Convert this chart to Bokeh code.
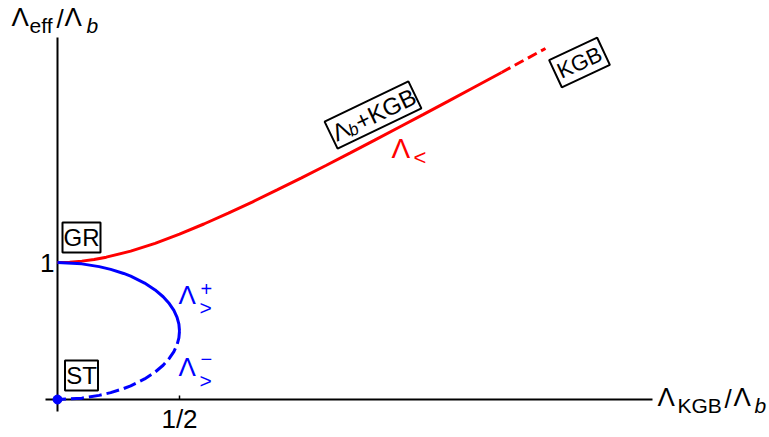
import math
from bokeh.plotting import figure
from bokeh.models import Range1d
from bokeh.core.properties import value
from bokeh.embed import file_html
from bokeh.resources import INLINE

# Lambda_< branch (red): solid part, then dashed continuation
red_x = [0.0, 0.05, 0.1, 0.15, 0.2, 0.3, 0.4, 0.5, 0.6, 0.7, 0.8, 0.9, 1.0,
         1.1, 1.2, 1.3, 1.4, 1.5, 1.6, 1.7, 1.82]
red_y = [1.0, 1.0025, 1.010, 1.022, 1.039, 1.083, 1.140, 1.207, 1.281, 1.360,
         1.443, 1.530, 1.618, 1.708, 1.800, 1.893, 1.987, 2.081, 2.176, 2.272, 2.387]
red_dash_x = [1.82, 1.9, 2.0]
red_dash_y = [2.387, 2.465, 2.562]

# Lambda_>^+ branch (blue, solid) and Lambda_>^- branch (blue, dashed)
plus_y = [1.0, 0.99, 0.97, 0.95, 0.92, 0.9, 0.85, 0.8, 0.75, 0.7, 0.65, 0.6, 0.55, 0.5]
plus_x = [0.0, 0.0995, 0.1706, 0.218, 0.2713, 0.3, 0.357, 0.4, 0.433, 0.458, 0.477, 0.490, 0.4975, 0.5]
minus_y = [0.5, 0.45, 0.4, 0.35, 0.3, 0.25, 0.2, 0.15, 0.1, 0.08, 0.05, 0.03, 0.01, 0.0]
minus_x = [0.5, 0.4975, 0.490, 0.477, 0.458, 0.433, 0.4, 0.357, 0.3, 0.2713, 0.218, 0.1706, 0.0995, 0.0]

# axis ticks and their labels
x_ticks = [0.5]
x_tick_labels = ["1/2"]
y_ticks = [1.0]
y_tick_labels = ["1"]

W, H = 769, 437
X0, Y0 = 57.0, 399.0      # screen position of the origin
SX, SY = 244.0, 137.0     # pixels per data unit

RED = "#ff0000"
BLUE = "#0000ff"
FONT = value("Liberation Sans")

p = figure(width=W, height=H, output_backend="svg", toolbar_location=None,
           x_range=Range1d(-X0 / SX, (W - X0) / SX),
           y_range=Range1d((Y0 - H) / SY, Y0 / SY),
           x_axis_location=None, y_axis_location=None, min_border=0)
p.grid.visible = False
p.outline_line_color = None
p.background_fill_color = "white"


def dx(px):
    return px / SX


def dy(py):
    return -py / SY


def X(px):
    return (px - X0) / SX


def Y(py):
    return (Y0 - py) / SY


def put(x, y, txt, size, color="black", align="left", style="normal", angle=0.0):
    # (x, y) is the vertical middle of the text line
    p.text(x=[x], y=[y], text=[txt], text_font=FONT, text_font_size=value(f"{size}px"),
           text_color=color, text_align=align, text_baseline="middle",
           text_font_style=style, angle=angle)


# axes
p.segment(x0=[X(45)], y0=[0], x1=[X(652)], y1=[0], line_color="black", line_width=2)
p.segment(x0=[0], y0=[Y(411)], x1=[0], y1=[Y(37)], line_color="black", line_width=2)
for t in x_ticks:
    p.segment(x0=[t], y0=[0], x1=[t], y1=[dy(-4)], line_color="black", line_width=1.5)
for t in y_ticks:
    p.segment(x0=[0], y0=[t], x1=[dx(4)], y1=[t], line_color="black", line_width=1.5)
for t, lab in zip(x_ticks, x_tick_labels):
    put(t, dy(19), lab, 26, align="center")
for t, lab in zip(y_ticks, y_tick_labels):
    put(dx(-3), t, lab, 26, align="right")

# curves
p.line(red_x, red_y, line_color=RED, line_width=3)
p.line(red_dash_x, red_dash_y, line_color=RED, line_width=3, line_dash="10 5")
p.line(plus_x, plus_y, line_color=BLUE, line_width=3)
p.line(minus_x, minus_y, line_color=BLUE, line_width=3, line_dash="13 5")
p.scatter([0], [0], size=9, color=BLUE)

# axis titles
put(X(11), Y(16), "Λ", 26)
put(X(29), Y(25), "eff", 21)
put(X(56), Y(18), "/", 26)
put(X(64), Y(16), "Λ", 26)
put(X(86), Y(25), "b", 21, style="italic")

put(X(657), Y(396), "Λ", 26)
put(X(677), Y(405), "KGB", 21)
put(X(724), Y(398), "/", 26)
put(X(733), Y(396), "Λ", 26)
put(X(754), Y(405), "b", 21, style="italic")

# branch labels
put(X(391), Y(148), "Λ", 28, color=RED)
put(X(413), Y(157), "<", 22, color=RED)

put(X(178), Y(294), "Λ", 26, color=BLUE)
put(X(199), Y(307), ">", 21, color=BLUE)
put(X(200), Y(288), "+", 20, color=BLUE)

put(X(178), Y(366), "Λ", 26, color=BLUE)
put(X(199), Y(380), ">", 21, color=BLUE)
put(X(200), Y(358), "−", 20, color=BLUE)


# framed labels
def box(cx, cy, w, h, angle=0.0):
    p.rect(x=[X(cx)], y=[Y(cy)], width=w, height=h, width_units="screen",
           height_units="screen", angle=angle, fill_color=None,
           line_color="black", line_width=2)


box(81, 237, 38, 30)
put(X(81), Y(237), "GR", 24, align="center")
box(81, 375, 33, 30)
put(X(81), Y(375), "ST", 24, align="center")


# rotated boxes: pieces placed along the rotated text line
def along(cx, cy, theta, u, v):
    # u along the text direction, v towards the text's bottom (screen pixels)
    sx = cx + u * math.cos(theta) + v * math.sin(theta)
    sy = cy - u * math.sin(theta) + v * math.cos(theta)
    return X(sx), Y(sy)


th1 = math.radians(25.7)
c1 = (372.5, 114.5)
box(*c1, 93, 30, th1)
L = 88
put(*along(*c1, th1, -L / 2, 0), "Λ", 24, angle=th1)
put(*along(*c1, th1, -L / 2 + 15.5, 5), "b", 17, style="italic", angle=th1)
put(*along(*c1, th1, -L / 2 + 25.5, 0), "+KGB", 24, angle=th1)

th2 = math.radians(25)
c2 = (579, 62)
box(*c2, 53, 30, th2)
put(*along(*c2, th2, 0, 0), "KGB", 22, align="center", angle=th2)

open("out.html", "w").write(file_html(p, INLINE))
